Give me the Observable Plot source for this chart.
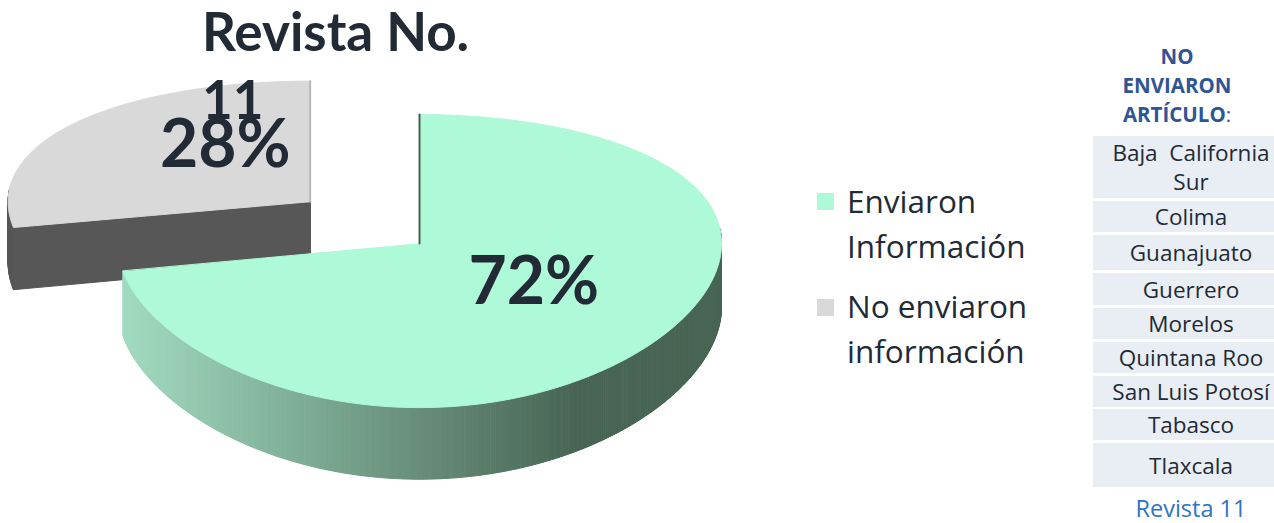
<!DOCTYPE html>
<html>
<head>
<meta charset="utf-8">
<script src="https://cdn.jsdelivr.net/npm/d3@7"></script>
<script src="https://cdn.jsdelivr.net/npm/@observablehq/plot@0.6"></script>
<style>
  html, body { margin: 0; padding: 0; background: #fff; width: 1274px; height: 523px; overflow: hidden; }
  #wrap { position: relative; width: 1274px; height: 523px; overflow: hidden; font-family: "Open Sans", sans-serif; color: #222a35; }
  #chart { position: absolute; left: 0; top: 0; }
  #title { position: absolute; left: 202px; top: -3px; font-family: Lato, sans-serif; font-weight: 700; font-size: 53px; line-height: 68px; color: #222a35; white-space: nowrap; pointer-events: none; }
  .leg { position: absolute; left: 817px; }
  .leg .sw { position: absolute; left: 0; width: 17px; height: 17px; }
  .leg .tx { position: absolute; left: 30px; top: 0; font-size: 31.5px; line-height: 45px; white-space: nowrap; color: #222a35; }
  #thead { position: absolute; left: 1079px; width: 196px; top: 42px; text-align: center; font-size: 20.5px; line-height: 29px; font-weight: 700; color: #2f5597; }
  #thead .colon { font-weight: 400; }
  .row { position: absolute; left: 1093px; width: 200px; background: #e9edf4; display: flex; align-items: center; }
  .row .cell { margin-left: 6px; width: 184px; text-align: center; font-size: 22.5px; line-height: 29px; white-space: pre-wrap; color: #222a35; }
  #foot { position: absolute; left: 1093px; width: 196px; top: 498px; text-align: center; font-size: 23.5px; line-height: 20px; color: #2e74c4; }
</style>
</head>
<body>
<div id="wrap">
  <div id="chart"></div>
  <div id="title"></div>
  <div id="legend"></div>
  <div id="table"></div>
</div>
<script>
// ---------- data ----------
const categories = ["Enviaron Información", "No enviaron información"];
const legendLabels = ["Enviaron\nInformación", "No enviaron\ninformación"];
const values = [72, 28];
const valueLabels = ["72%", "28%"];
const sliceColors = ["#aef9d8", "#d9d9d9"];
const titleLines = ["Revista No.", "11"];
const tableHeader = ["NO", "ENVIARON", "ARTÍCULO"];
const states = ["Baja  California Sur", "Colima", "Guanajuato", "Guerrero", "Morelos",
                "Quintana Roo", "San Luis Potosí", "Tabasco", "Tlaxcala"];
const tableFooter = "Revista 11";

// ---------- layout (not data) ----------
const W = 780, H = 523;
const G = {cx: 419, cy: 243, rx: 302, ry: 144.4, k: 0.12, depth: 63};
const explode = [0, 0.47];
const labelR = [0.5, 0.33];
const labelDx = [-2, -8];
const labelDy = [-8, -28];
const rowTops = [136, 201, 235, 273, 308, 342, 376, 409, 443];
const rowBottoms = [198, 232, 270, 305, 339, 373, 407, 440, 487];
const legendTops = [178, 283];
const swatchTops = [15, 16];

// perspective-ish projection of a unit-disk pie
function proj(X, V, h) {
  const w = 1 / (1 + G.k * V);
  return [G.cx + G.rx * X, G.cy - G.ry * V * w + G.depth * h * w];
}
const arcs = d3.pie().sort(null).value(d => d)(values);
const deg = Math.PI / 180;

function slicePt(i, a, r, h) {
  const s = arcs[i];
  const mid = (s.startAngle + s.endAngle) / 2;
  const ox = explode[i] * Math.sin(mid), ov = explode[i] * Math.cos(mid);
  return proj(ox + r * Math.sin(a), ov + r * Math.cos(a), h);
}
function poly(ring, fill) {
  return {type: "Feature", properties: {fill}, geometry: {type: "Polygon", coordinates: [[...ring, ring[0]]]}};
}
function line(pts, stroke) {
  return {type: "Feature", properties: {stroke}, geometry: {type: "LineString", coordinates: pts}};
}
const rimColor = x => d3.interpolateRgb("#a2dcc1", "#486554")(Math.max(0, Math.min(1, (x - 118) / (575 - 118))));
const sideDark = ["#486554", "#575757"];

const faces = [];
const edges = [];
// draw back (gray) slice first, then main
for (const i of [1, 0]) {
  const s = arcs[i];
  const a0 = s.startAngle, a1 = s.endAngle;
  if (i === 1) {
    faces.push(poly([slicePt(i, a0, 0, 0), slicePt(i, a0, 1, 0), slicePt(i, a0, 1, 1), slicePt(i, a0, 0, 1)], sideDark[i]));
  }
  const r0 = Math.max(a0, 84 * deg), r1 = Math.min(a1, 276 * deg);
  if (r1 > r0) {
    const n = Math.max(2, Math.ceil((r1 - r0) / (0.5 * deg)));
    for (let j = 0; j < n; j++) {
      const b0 = r0 + (r1 - r0) * j / n, b1 = r0 + (r1 - r0) * (j + 1) / n;
      const p0 = slicePt(i, b0, 1, 0), p1 = slicePt(i, b1, 1, 0);
      const q1 = slicePt(i, b1, 1, 1), q0 = slicePt(i, b0, 1, 1);
      const col = i === 0 ? rimColor((p0[0] + p1[0]) / 2) : sideDark[i];
      faces.push(poly([p0, p1, q1, q0], col));
    }
  }
  const ring = [slicePt(i, 0, 0, 0)];
  const m = Math.ceil((a1 - a0) / deg);
  for (let j = 0; j <= m; j++) ring.push(slicePt(i, a0 + (a1 - a0) * j / m, 1, 0));
  faces.push(poly(ring, sliceColors[i]));
  const ea = i === 0 ? a0 : a1;
  edges.push(line([slicePt(i, ea, 0, 0), slicePt(i, ea, 1, 0)], i === 0 ? "#44604f" : "#b8b8b8"));
}

const labelData = arcs.map((s, i) => {
  const mid = (s.startAngle + s.endAngle) / 2;
  const p = slicePt(i, mid, labelR[i], 0);
  return {x: p[0] + labelDx[i], y: p[1] + labelDy[i], text: valueLabels[i], cat: categories[i]};
});

const chart = Plot.plot({
  width: W,
  height: H,
  margin: 0,
  projection: d3.geoIdentity(),
  color: {type: "identity"},
  marks: [
    Plot.geo(faces, {fill: d => d.properties.fill, stroke: d => d.properties.fill, strokeWidth: 1}),
    Plot.geo(edges, {stroke: d => d.properties.stroke, strokeWidth: 2, fill: "none"}),
    Plot.text(labelData, {x: "x", y: "y", text: "text", fontSize: 66, fontWeight: "bold",
      fontFamily: "Lato, sans-serif", fill: "#222a35"})
  ]
});
document.getElementById("chart").appendChild(chart);

document.getElementById("title").innerHTML = titleLines.join("<br>");

const leg = document.getElementById("legend");
legendLabels.forEach((t, i) => {
  const d = document.createElement("div");
  d.className = "leg";
  d.style.top = legendTops[i] + "px";
  d.innerHTML = `<div class="sw" style="top:${swatchTops[i]}px;background:${sliceColors[i]}"></div><div class="tx">${t.replace("\n", "<br>")}</div>`;
  leg.appendChild(d);
});

const tbl = document.getElementById("table");
const head = document.createElement("div");
head.id = "thead";
head.innerHTML = tableHeader.slice(0, -1).join("<br>") + "<br>" + tableHeader[tableHeader.length - 1] + '<span class="colon">:</span>';
tbl.appendChild(head);
states.forEach((s, i) => {
  const r = document.createElement("div");
  r.className = "row";
  r.style.top = rowTops[i] + "px";
  r.style.height = (rowBottoms[i] - rowTops[i]) + "px";
  const c = document.createElement("div");
  c.className = "cell";
  c.textContent = s;
  r.appendChild(c);
  tbl.appendChild(r);
});
const foot = document.createElement("div");
foot.id = "foot";
foot.textContent = tableFooter;
tbl.appendChild(foot);
</script>
</body>
</html>
